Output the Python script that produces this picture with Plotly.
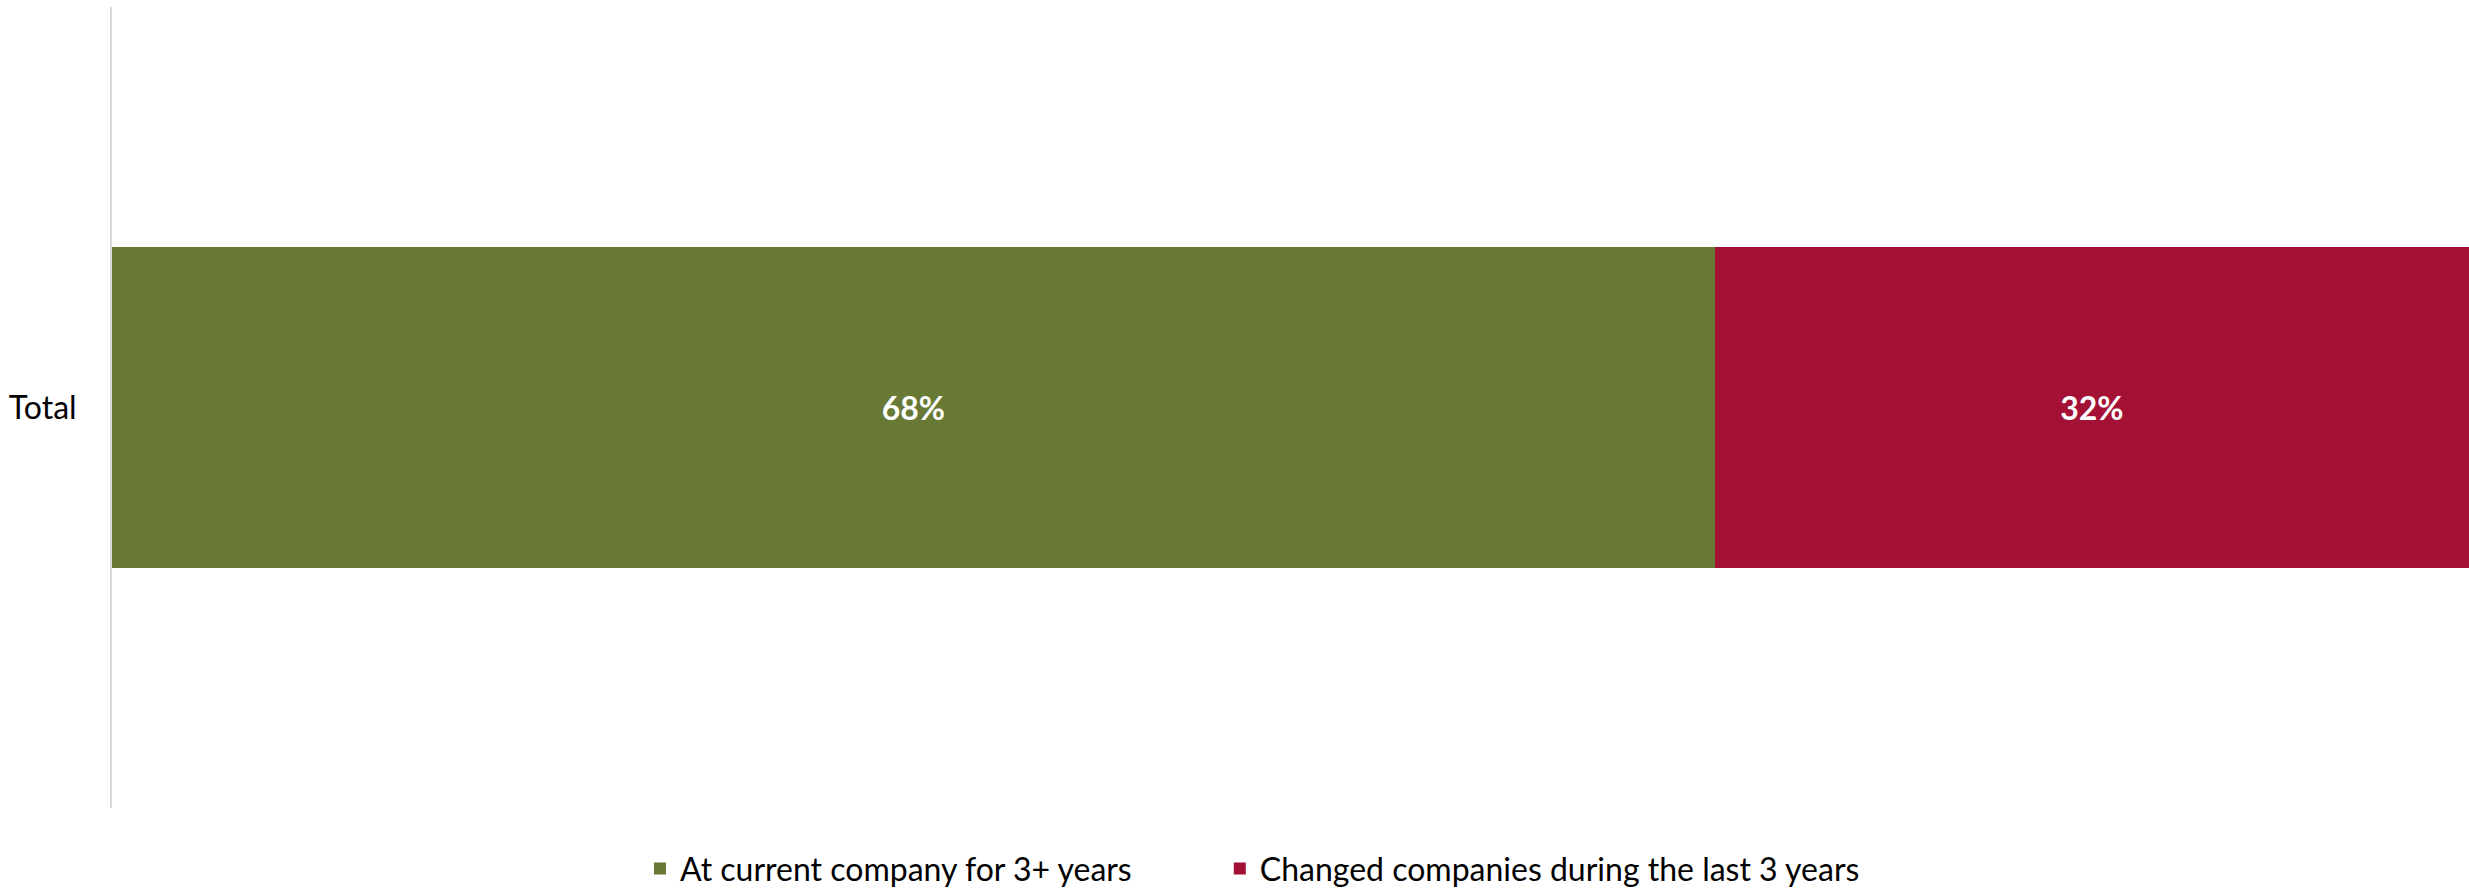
import plotly.graph_objects as go

categories = ["Total"]
series_names = ["At current company for 3+ years", "Changed companies during the last 3 years"]
current_company = [68]
changed_companies = [32]
colors = ["#677934", "#A31134"]
legend_ids = ["legend", "legend2"]

FONT = "Lato, Open Sans, sans-serif"

fig = go.Figure()
for name, vals, col, lg in zip(series_names, [current_company, changed_companies], colors, legend_ids):
    fig.add_trace(go.Bar(
        y=categories, x=vals, name=name, orientation="h", legend=lg,
        marker=dict(color=col, line=dict(width=0)),
        text=[f"{v}%" for v in vals], textposition="inside",
        insidetextanchor="middle",
        textfont=dict(family=FONT, size=32, color="white", weight="bold"),
    ))

legend_style = dict(orientation="h", xanchor="left", yref="container", y=0.024,
                    yanchor="middle", font=dict(family=FONT, size=32, color="#000000"),
                    itemwidth=30)

fig.update_layout(
    barmode="stack",
    bargap=0.6,
    width=2469, height=890,
    margin=dict(l=112, r=0, t=7, b=82, autoexpand=False),
    paper_bgcolor="white", plot_bgcolor="white",
    font=dict(family=FONT, size=30, color="#000000"),
    showlegend=True,
    legend=dict(x=0.224, **legend_style),
    legend2=dict(x=0.470, **legend_style),
    uniformtext=dict(mode="show", minsize=10),
)
fig.update_xaxes(range=[0, 100], visible=False, showgrid=False, zeroline=False)
fig.update_yaxes(showline=True, linecolor="#D9D9D9", linewidth=2, showgrid=False,
                 ticks="", ticklabelstandoff=27,
                 tickfont=dict(family=FONT, size=32, color="#000000"))

fig.write_html("out.html")
